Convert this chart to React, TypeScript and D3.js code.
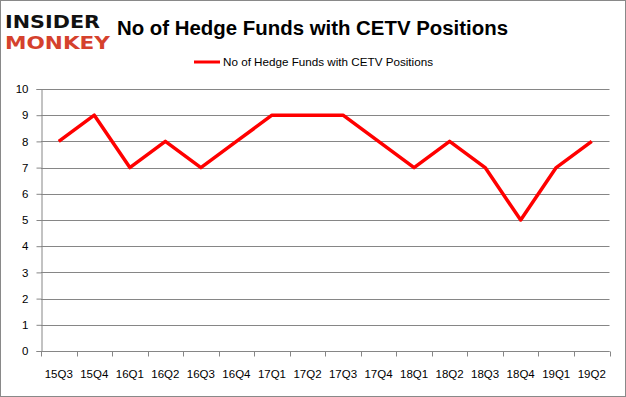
import React, { useEffect, useRef } from 'react'
import * as d3 from 'd3'

// quarters and hedge fund counts
const quarters = ['15Q3', '15Q4', '16Q1', '16Q2', '16Q3', '16Q4', '17Q1', '17Q2', '17Q3', '17Q4', '18Q1', '18Q2', '18Q3', '18Q4', '19Q1', '19Q2']
const funds = [8, 9, 7, 8, 7, 8, 9, 9, 9, 8, 7, 8, 7, 5, 7, 8]
const yTicks = [0, 1, 2, 3, 4, 5, 6, 7, 8, 9, 10]
const title = 'No of Hedge Funds with CETV Positions'

const W = 626
const H = 397

export default function App () {
  const ref = useRef<SVGSVGElement>(null)

  useEffect(() => {
    const svg = d3.select(ref.current)
    svg.selectAll('*').remove()

    const margin = { top: 89, right: 16.5, bottom: 46, left: 41 }
    const width = W - margin.left - margin.right
    const height = H - margin.top - margin.bottom

    // outer frame
    svg.append('rect')
      .attr('x', 0.5).attr('y', 0.5)
      .attr('width', W - 1).attr('height', H - 1)
      .attr('fill', '#fff').attr('stroke', '#898989')

    // logo
    const logo = svg.append('g').style('font-family', 'DejaVu Sans').style('font-weight', 'bold')
    logo.append('text').attr('x', 5).attr('y', 28).attr('font-size', 18)
      .attr('textLength', 95).attr('lengthAdjust', 'spacingAndGlyphs')
      .attr('fill', '#111').text('INSIDER')
    logo.append('text').attr('x', 5).attr('y', 49).attr('font-size', 18)
      .attr('textLength', 105).attr('lengthAdjust', 'spacingAndGlyphs')
      .attr('fill', '#d5412d').text('MONKEY')

    svg.append('text')
      .attr('x', 117).attr('y', 35)
      .attr('font-family', 'Liberation Sans').attr('font-weight', 'bold')
      .attr('font-size', 20).attr('textLength', 391).attr('lengthAdjust', 'spacingAndGlyphs')
      .attr('fill', '#000').text(title)

    // legend
    svg.append('line')
      .attr('x1', 194).attr('x2', 220).attr('y1', 62).attr('y2', 62)
      .attr('stroke', '#ff0000').attr('stroke-width', 3)
    svg.append('text')
      .attr('x', 223).attr('y', 66)
      .attr('font-family', 'Liberation Sans').attr('font-size', 11.5)
      .attr('textLength', 210).attr('lengthAdjust', 'spacingAndGlyphs')
      .attr('fill', '#000').text(title)

    const g = svg.append('g')
      .attr('transform', 'translate(' + margin.left + ',' + margin.top + ')')

    const x = d3.scaleBand().domain(quarters).range([0, width])
    const y = d3.scaleLinear().domain([0, 10]).range([height, 0])

    // gridlines
    g.selectAll('.grid')
      .data(yTicks)
      .enter()
      .append('line')
      .attr('class', 'grid')
      .attr('x1', 0).attr('x2', width)
      .attr('y1', (d) => Math.round(y(d)) + 0.5)
      .attr('y2', (d) => Math.round(y(d)) + 0.5)
      .attr('stroke', '#868686')

    // y axis
    const yAxis = d3.axisLeft(y).tickValues(yTicks).tickSize(5).tickPadding(8)
    const ya = g.append('g').attr('transform', 'translate(0.5,0)').call(yAxis)
    ya.select('.domain').attr('stroke', '#868686')
    ya.selectAll('line').attr('stroke', '#868686')
    ya.selectAll('text').attr('font-family', 'Liberation Sans').attr('font-size', 11.5).attr('fill', '#000')

    // x axis, ticks between categories
    const xa = g.append('g').attr('transform', 'translate(0,' + (Math.round(height) + 0.5) + ')')
    xa.append('line').attr('x1', 0).attr('x2', width).attr('stroke', '#868686')
    const bounds = quarters.map((q) => x(q) as number).concat([width])
    xa.selectAll('.tick')
      .data(bounds)
      .enter()
      .append('line')
      .attr('x1', (d) => Math.round(d) + 0.5).attr('x2', (d) => Math.round(d) + 0.5)
      .attr('y1', 0).attr('y2', 5)
      .attr('stroke', '#868686')
    xa.selectAll('.lbl')
      .data(quarters)
      .enter()
      .append('text')
      .attr('x', (d) => (x(d) as number) + x.bandwidth() / 2)
      .attr('y', 26)
      .attr('text-anchor', 'middle')
      .attr('font-family', 'Liberation Sans').attr('font-size', 11.5)
      .attr('fill', '#000')
      .text((d) => d)

    const line = d3.line<number>()
      .x((d, i) => (x(quarters[i]) as number) + x.bandwidth() / 2)
      .y((d) => y(d))

    g.append('path')
      .datum(funds)
      .attr('d', line)
      .attr('fill', 'none')
      .attr('stroke', '#ff0000')
      .attr('stroke-width', 3.5)
      .attr('stroke-linejoin', 'round')
  }, [])

  return (
    <svg ref={ref} width={W} height={H} style={{ position: 'absolute', left: 0, top: 0 }} />
  )
}
